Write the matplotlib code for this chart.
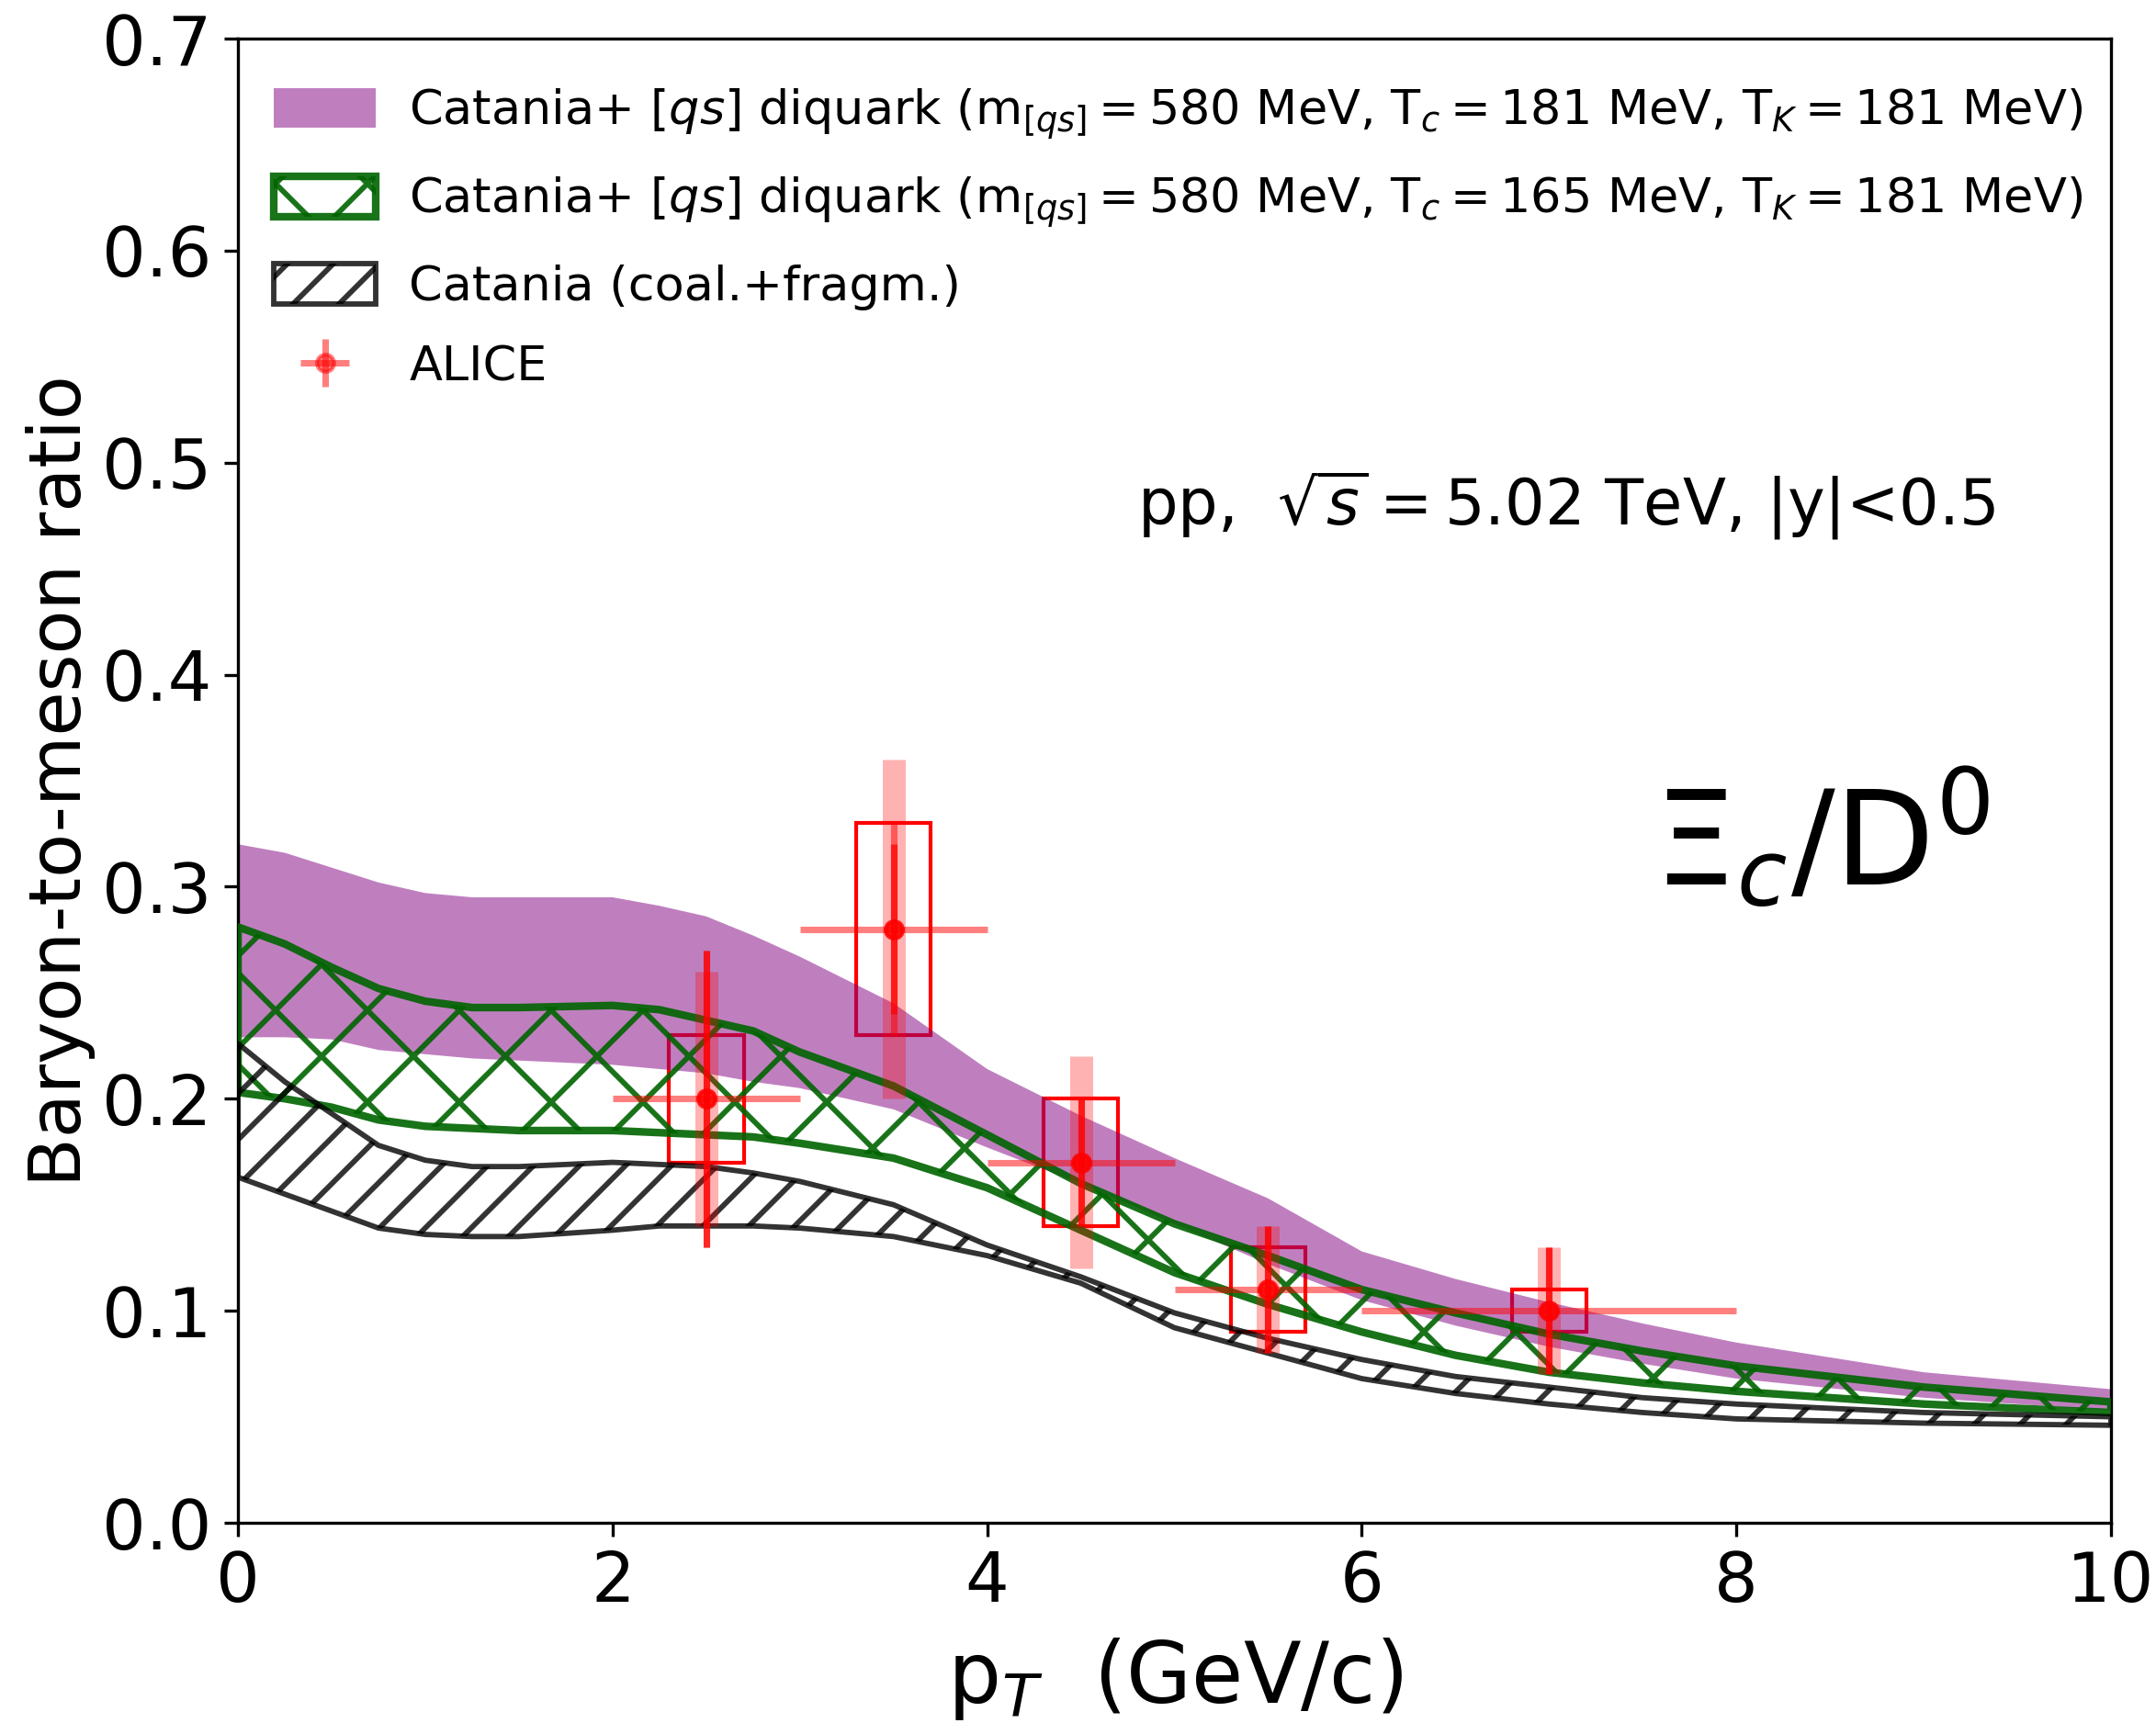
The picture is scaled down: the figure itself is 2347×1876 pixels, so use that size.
import numpy as np
import matplotlib
matplotlib.use("Agg")
import matplotlib.pyplot as plt
from matplotlib.patches import Rectangle

plt.rcParams['hatch.linewidth'] = 1.4

# --- model bands (pT grid shared by all three) ---
pt = [0.0, 0.25, 0.5, 0.75, 1.0, 1.25, 1.5, 2.0, 2.25, 2.5, 2.75, 3.0,
      3.5, 4.0, 4.5, 5.0, 5.5, 6.0, 6.5, 7.0, 7.5, 8.0, 9.0, 10.0]

# Catania+ [qs] diquark, Tc = 181 MeV
diq181_hi = [0.320, 0.316, 0.309, 0.302, 0.297, 0.295, 0.295, 0.295, 0.291, 0.286, 0.277, 0.267,
             0.245, 0.214, 0.192, 0.172, 0.153, 0.128, 0.115, 0.104, 0.094, 0.085, 0.071, 0.063]
diq181_lo = [0.229, 0.229, 0.228, 0.223, 0.221, 0.219, 0.218, 0.216, 0.214, 0.212, 0.208, 0.205,
             0.195, 0.177, 0.160, 0.141, 0.122, 0.105, 0.093, 0.083, 0.075, 0.068, 0.059, 0.053]

# Catania+ [qs] diquark, Tc = 165 MeV
diq165_hi = [0.281, 0.273, 0.262, 0.252, 0.246, 0.243, 0.243, 0.244, 0.242, 0.237, 0.232, 0.222,
             0.206, 0.183, 0.160, 0.141, 0.126, 0.110, 0.099, 0.089, 0.081, 0.074, 0.064, 0.057]
diq165_lo = [0.203, 0.200, 0.196, 0.190, 0.187, 0.186, 0.185, 0.185, 0.184, 0.183, 0.182, 0.179,
             0.172, 0.158, 0.138, 0.118, 0.103, 0.090, 0.079, 0.071, 0.066, 0.062, 0.056, 0.052]

# Catania coal.+fragm.
cf_hi = [0.226, 0.208, 0.193, 0.178, 0.171, 0.168, 0.168, 0.170, 0.169, 0.168, 0.165, 0.161,
         0.150, 0.131, 0.116, 0.099, 0.087, 0.077, 0.069, 0.064, 0.059, 0.056, 0.052, 0.050]
cf_lo = [0.163, 0.155, 0.147, 0.139, 0.136, 0.135, 0.135, 0.138, 0.140, 0.140, 0.140, 0.139,
         0.135, 0.126, 0.113, 0.092, 0.080, 0.068, 0.061, 0.056, 0.052, 0.049, 0.047, 0.046]

# --- ALICE data ---
alice_pt = [2.5, 3.5, 4.5, 5.5, 7.0]
alice_ratio = [0.20, 0.28, 0.17, 0.11, 0.10]
alice_pt_err = [0.5, 0.5, 0.5, 0.5, 1.0]
alice_err_a = [0.07, 0.05, 0.03, 0.03, 0.03]
alice_err_b = [0.07, 0.04, 0.03, 0.03, 0.03]
alice_err_wide = [0.06, 0.08, 0.05, 0.03, 0.03]
alice_err_box = [0.03, 0.05, 0.03, 0.02, 0.01]

lab181 = r'Catania+ $[qs]$ diquark (m$_{[qs]} = 580$ MeV, T$_c = 181$ MeV, T$_K = 181$ MeV)'
lab165 = r'Catania+ $[qs]$ diquark (m$_{[qs]} = 580$ MeV, T$_c = 165$ MeV, T$_K = 181$ MeV)'

fig = plt.figure(figsize=(2347 / 300, 1876 / 300), dpi=300)
ax = fig.add_axes([0.1104, 0.1162, 0.8687, 0.8614])

# systematic boxes (under the bands)
box_w = 0.2
for x, y, b in zip(alice_pt, alice_ratio, alice_err_box):
    ax.add_patch(Rectangle((x - box_w, y - b), 2 * box_w, 2 * b, fill=False,
                           edgecolor='red', linewidth=1.0, zorder=1))

ax.fill_between(pt, diq181_lo, diq181_hi, facecolor='purple', alpha=0.5,
                linewidth=0, label=lab181, zorder=2)
ax.fill_between(pt, diq165_lo, diq165_hi, facecolor='none', edgecolor='darkgreen',
                hatch='x', linewidth=2.0, alpha=0.9, label=lab165, zorder=3)
ax.fill_between(pt, cf_lo, cf_hi, facecolor='none', edgecolor='black',
                hatch='//', linewidth=1.4, alpha=0.8, label='Catania (coal.+fragm.)', zorder=3)

ax.errorbar(alice_pt, alice_ratio, yerr=alice_err_wide, fmt='none', ecolor='red',
            elinewidth=6, alpha=0.3, zorder=5)
ax.errorbar(alice_pt, alice_ratio, xerr=alice_pt_err, yerr=alice_err_a, fmt='o',
            color='red', ms=4.5, elinewidth=1.7, alpha=0.5, label='ALICE', zorder=6)
ax.errorbar(alice_pt, alice_ratio, yerr=alice_err_b, fmt='o', color='red',
            ms=4.5, elinewidth=1.7, alpha=0.7, zorder=7)

ax.text(4.8, 0.48, r'pp,  $\sqrt{s}=5.02$ TeV, |y|<0.5', fontsize=16.5, va='center')
ax.text(7.56, 0.301, r'$\Xi_c$/D$^0$', fontsize=34, va='baseline')

ax.set_xlim(0, 10)
ax.set_ylim(0, 0.7)
ax.set_xlabel(r'p$_T$  (GeV/c)', fontsize=22, labelpad=5)
ax.set_ylabel('Baryon-to-meson ratio', fontsize=18.8, labelpad=1.5)
ax.tick_params(labelsize=18)

ax.legend(loc='upper left', bbox_to_anchor=(0, 0.992), frameon=False, fontsize=12.6,
          handleheight=0.9, handlelength=2.1, labelspacing=0.7, borderaxespad=0.35,
          handletextpad=0.7)

fig.savefig('out.png', dpi=300)
